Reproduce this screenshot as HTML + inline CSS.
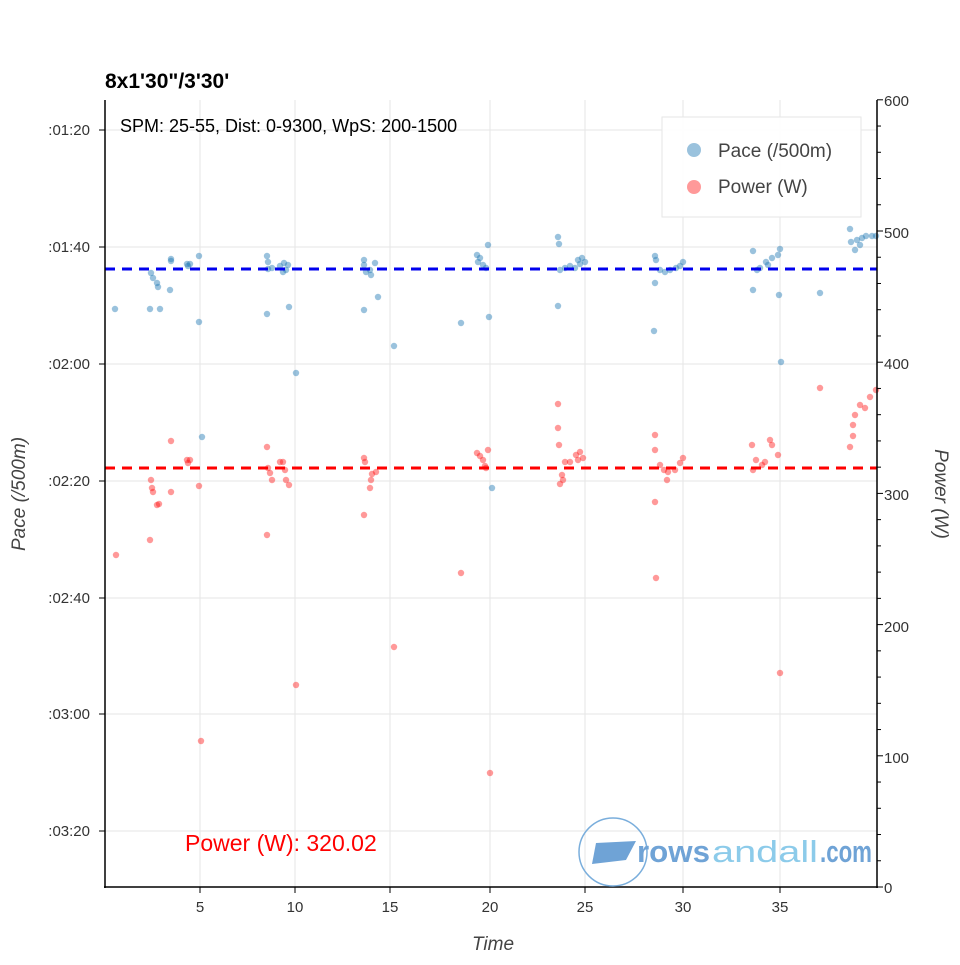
<!DOCTYPE html>
<html><head><style>body{margin:0;background:#fff}</style></head><body>
<svg width="960" height="960" xmlns="http://www.w3.org/2000/svg" font-family="Liberation Sans, sans-serif">
<rect width="960" height="960" fill="#fff"/>
<g stroke="#e6e6e6" stroke-width="1">
<line x1="200" y1="100" x2="200" y2="887"/><line x1="295" y1="100" x2="295" y2="887"/><line x1="390" y1="100" x2="390" y2="887"/><line x1="490" y1="100" x2="490" y2="887"/><line x1="585" y1="100" x2="585" y2="887"/><line x1="683" y1="100" x2="683" y2="887"/><line x1="780" y1="100" x2="780" y2="887"/>
<line x1="105" y1="130" x2="877" y2="130"/><line x1="105" y1="247" x2="877" y2="247"/><line x1="105" y1="364" x2="877" y2="364"/><line x1="105" y1="481" x2="877" y2="481"/><line x1="105" y1="598" x2="877" y2="598"/><line x1="105" y1="714" x2="877" y2="714"/><line x1="105" y1="831" x2="877" y2="831"/>
</g>
<g id="b" fill="#1f77b4" fill-opacity="0.45"></g>
<g id="r" fill="#ff0000" fill-opacity="0.4"></g>
<line x1="105" y1="269" x2="877" y2="269" stroke="#0000ee" stroke-width="3" stroke-dasharray="10,7"/>
<line x1="105" y1="468" x2="877" y2="468" stroke="#ff0000" stroke-width="3" stroke-dasharray="10,7"/>
<g stroke="#000" stroke-width="1.5" fill="none">
<line x1="105" y1="100" x2="105" y2="888"/><line x1="877" y1="100" x2="877" y2="888"/><line x1="104" y1="887" x2="878" y2="887"/>
</g>
<g stroke="#000" stroke-width="1">
<line x1="99" y1="130" x2="105" y2="130"/><line x1="99" y1="247" x2="105" y2="247"/><line x1="99" y1="364" x2="105" y2="364"/><line x1="99" y1="481" x2="105" y2="481"/><line x1="99" y1="598" x2="105" y2="598"/><line x1="99" y1="714" x2="105" y2="714"/><line x1="99" y1="831" x2="105" y2="831"/>
<line x1="200" y1="887" x2="200" y2="893"/><line x1="295" y1="887" x2="295" y2="893"/><line x1="390" y1="887" x2="390" y2="893"/><line x1="490" y1="887" x2="490" y2="893"/><line x1="585" y1="887" x2="585" y2="893"/><line x1="683" y1="887" x2="683" y2="893"/><line x1="780" y1="887" x2="780" y2="893"/>
</g>
<g id="rt" stroke="#000" stroke-width="1"></g>
<g font-size="15" fill="#333" text-anchor="end">
<text x="90" y="135">:01:20</text><text x="90" y="252">:01:40</text><text x="90" y="369">:02:00</text><text x="90" y="486">:02:20</text><text x="90" y="603">:02:40</text><text x="90" y="719">:03:00</text><text x="90" y="836">:03:20</text>
</g>
<g font-size="15" fill="#333">
<text x="884" y="106">600</text><text x="884" y="238">500</text><text x="884" y="369">400</text><text x="884" y="500">300</text><text x="884" y="632">200</text><text x="884" y="763">100</text><text x="884" y="893">0</text>
</g>
<g font-size="15" fill="#333" text-anchor="middle">
<text x="200" y="912">5</text><text x="295" y="912">10</text><text x="390" y="912">15</text><text x="490" y="912">20</text><text x="585" y="912">25</text><text x="683" y="912">30</text><text x="780" y="912">35</text>
</g>
<text x="493" y="950" font-size="19" font-style="italic" fill="#444" text-anchor="middle">Time</text>
<text transform="translate(25,494) rotate(-90)" font-size="19" font-style="italic" fill="#444" text-anchor="middle">Pace (/500m)</text>
<text transform="translate(935,494) rotate(90)" font-size="19" font-style="italic" fill="#444" text-anchor="middle">Power (W)</text>
<text x="105" y="88" font-size="21" font-weight="bold">8x1'30"/3'30'</text>
<text x="120" y="132" font-size="18">SPM: 25-55, Dist: 0-9300, WpS: 200-1500</text>
<rect x="662" y="117" width="199" height="100" fill="#fff" fill-opacity="0.9" stroke="#e6e6e6"/>
<circle cx="694" cy="150" r="7" fill="#1f77b4" fill-opacity="0.45"/>
<text x="718" y="157" font-size="19" fill="#444">Pace (/500m)</text>
<circle cx="694" cy="187" r="7" fill="#ff0000" fill-opacity="0.4"/>
<text x="718" y="193" font-size="19" fill="#444">Power (W)</text>
<text x="185" y="851" font-size="23" fill="#ff0000">Power (W): 320.02</text>
<circle cx="613" cy="852" r="34" fill="none" stroke="#7aaedc" stroke-width="1.5"/>
<path d="M596 843 L636 841 L626 860 L592 864 Z" fill="#6fa3d6"/>
<text x="637" y="862" font-size="31" fill="#6fa3d6" font-weight="bold" textLength="73" lengthAdjust="spacingAndGlyphs">rows</text>
<text x="712" y="862" font-size="31" fill="#8ccbea" textLength="106" lengthAdjust="spacingAndGlyphs">andall</text>
<text x="820" y="862" font-size="31" fill="#6fa3d6" font-weight="bold" textLength="52" lengthAdjust="spacingAndGlyphs">.com</text>
<script>
var B=[[115,309],[150,309],[160,309],[151,273],[153,278],[157,283],[158,287],[170,290],[171,259],[171,261],[187,264],[190,264],[188,266],[199,256],[199,322],[202,437],[267,256],[268,262],[268,269],[267,314],[272,268],[280,266],[284,263],[286,270],[289,307],[288,265],[283,272],[296,373],[364,260],[364,265],[366,272],[370,270],[375,263],[378,297],[364,310],[371,275],[394,346],[461,323],[477,255],[478,262],[483,265],[488,245],[486,268],[489,317],[492,488],[480,258],[558,237],[559,244],[558,306],[565,268],[570,266],[578,260],[582,258],[580,264],[575,268],[585,262],[560,270],[655,256],[656,260],[655,283],[654,331],[660,270],[665,272],[670,270],[676,268],[683,262],[680,266],[753,251],[753,290],[757,270],[760,268],[768,265],[772,258],[778,255],[780,249],[779,295],[781,362],[766,262],[820,293],[850,229],[851,242],[855,250],[857,240],[862,238],[866,236],[872,236],[876,236],[860,245]];
var R=[[116,555],[150,540],[151,480],[152,488],[153,492],[157,505],[159,504],[171,441],[171,492],[187,460],[190,460],[188,463],[199,486],[201,741],[267,447],[267,535],[268,468],[270,473],[272,480],[280,462],[283,462],[286,480],[289,485],[285,470],[296,685],[364,458],[365,462],[364,515],[370,488],[372,474],[376,472],[371,480],[394,647],[461,573],[477,453],[480,456],[483,460],[486,468],[488,450],[490,773],[485,466],[558,404],[558,428],[559,445],[562,475],[563,480],[565,462],[570,462],[576,455],[580,452],[583,458],[578,460],[560,484],[655,435],[655,450],[656,578],[655,502],[660,465],[664,470],[668,472],[675,470],[680,463],[683,458],[667,480],[752,445],[753,470],[756,460],[762,465],[770,440],[772,445],[778,455],[780,673],[765,462],[820,388],[850,447],[853,425],[855,415],[860,405],[865,408],[870,397],[876,390],[853,436]];
var ns="http://www.w3.org/2000/svg";
function add(id,a){var g=document.getElementById(id);a.forEach(function(p){var c=document.createElementNS(ns,"circle");c.setAttribute("cx",p[0]);c.setAttribute("cy",p[1]);c.setAttribute("r",3.2);g.appendChild(c);});}
add("b",B);add("r",R);
var t=document.getElementById("rt");
for(var i=0;i<=30;i++){var y=887-i*26.24;var l=document.createElementNS(ns,"line");l.setAttribute("x1",877);l.setAttribute("x2",i%5==0?883:881);l.setAttribute("y1",y);l.setAttribute("y2",y);t.appendChild(l);}
</script>
</svg>
</body></html>
